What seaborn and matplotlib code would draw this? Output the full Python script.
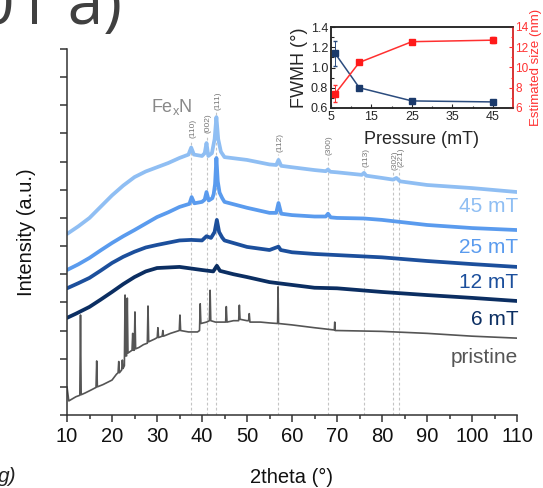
import matplotlib
matplotlib.use("Agg")
import matplotlib.pyplot as plt
import numpy as np
import seaborn as sns
from matplotlib.ticker import MultipleLocator, FixedLocator

# ---- XRD traces (2theta in deg, intensity offset in tick units) ----
pristine_x = [10.0, 10.4, 12.0, 12.85, 13.0, 13.15, 14.0, 15.5, 16.45, 16.6, 16.75, 18.0,
              20.0, 21.0, 21.35, 21.5, 21.65, 22.15, 22.3, 22.45, 22.75, 22.9, 23.05,
              23.25, 23.4, 23.55, 24.0, 24.45, 24.6, 24.75, 24.95, 25.1, 25.25, 26.0,
              27.0, 27.85, 28.0, 28.15, 29.5, 30.05, 30.2, 30.35, 31.15, 31.3, 31.45,
              33.0, 34.95, 35.1, 35.25, 37.0, 39.0, 39.45, 39.6, 39.75, 41.0, 41.65,
              41.8, 41.95, 43.0, 44.0, 45.25, 45.4, 45.55, 47.0, 48.15, 48.3, 48.45,
              50.0, 50.35, 50.5, 50.65, 53.0, 55.0, 56.8, 56.9, 57.0, 60.0, 65.0, 69.4,
              69.5, 69.6, 70.0, 80.0, 90.0, 100.0, 110.0]
pristine_y = [1.0, 0.5, 0.65, 0.7, 3.55, 0.72, 0.78, 0.9, 0.98, 1.92, 1.0, 1.08,
              1.24, 1.45, 1.5, 1.9, 1.5, 1.6, 1.95, 1.65, 1.75, 4.26, 2.1,
              2.1, 4.15, 2.2, 2.25, 2.3, 2.9, 2.3, 2.3, 3.66, 2.35, 2.4,
              2.5, 2.55, 3.87, 2.6, 2.7, 2.75, 3.1, 2.75, 2.8, 3.0, 2.8,
              2.9, 3.0, 3.55, 3.0, 2.95, 2.95, 3.0, 3.95, 3.25, 3.3, 3.35,
              4.43, 3.35, 3.3, 3.3, 3.3, 3.85, 3.3, 3.35, 3.35, 3.9, 3.4,
              3.35, 3.35, 3.6, 3.3, 3.3, 3.27, 3.25, 4.55, 3.25, 3.2, 3.1, 3.02,
              3.3, 3.0, 3.0, 2.97, 2.9, 2.8, 2.73]

mt6_x = [10, 12, 15, 17.5, 20, 22.5, 25, 27.5, 30, 35, 40, 42.5, 43.3, 44, 47, 50,
         55, 60, 65, 70, 80, 90, 100, 110]
mt6_y = [3.45, 3.6, 3.84, 4.1, 4.37, 4.65, 4.9, 5.1, 5.22, 5.26, 5.15, 5.1, 5.3, 5.12,
         5.0, 4.9, 4.72, 4.62, 4.52, 4.5, 4.37, 4.26, 4.16, 4.05]

mt12_x = [10, 12.5, 15, 17.5, 20, 22.5, 25, 27.5, 30, 35, 37.6, 40, 41, 42, 42.8, 43.3,
          43.8, 44.5, 45, 50, 55, 57, 57.5, 60, 65, 70, 80, 90, 100, 110]
mt12_y = [4.5, 4.68, 4.87, 5.13, 5.4, 5.62, 5.8, 5.95, 6.04, 6.2, 6.22, 6.2, 6.35, 6.29,
          6.5, 6.93, 6.5, 6.3, 6.2, 5.97, 5.86, 5.98, 5.86, 5.78, 5.72, 5.68, 5.6,
          5.47, 5.36, 5.26]

mt25_x = [10, 12.5, 15, 17.5, 20, 22.5, 25, 27.5, 30, 32.5, 35, 37.2, 37.7, 38.3, 40,
          40.6, 41.0, 41.5, 42.3, 42.6, 42.9, 43.2, 43.5, 43.9, 44.5, 45, 50, 55, 56.5,
          57.0, 57.6, 60, 65, 67.5, 68.0, 68.6, 70, 76, 80, 90, 100, 110]
mt25_y = [5.15, 5.35, 5.58, 5.85, 6.11, 6.35, 6.57, 6.8, 7.03, 7.2, 7.39, 7.5, 7.74,
          7.52, 7.57, 7.65, 7.92, 7.62, 7.7, 7.85, 8.2, 9.13, 8.3, 7.9, 7.7, 7.57,
          7.36, 7.18, 7.18, 7.53, 7.15, 7.1, 7.05, 7.05, 7.15, 7.02, 7.0, 6.98, 6.93,
          6.75, 6.64, 6.57]

mt45_x = [10, 12.5, 15, 17.5, 20, 22.5, 25, 27.5, 30, 32.5, 35, 37.0, 37.6, 38.2, 40,
          40.6, 41.0, 41.4, 42.2, 42.8, 43.2, 43.6, 44.2, 45, 50, 55, 56.5, 57.0, 57.6,
          60, 65, 67.5, 68.0, 68.5, 70, 75.5, 76.0, 76.5, 80, 82.5, 83.2, 84, 90,
          100, 110]
mt45_y = [6.43, 6.7, 7.0, 7.4, 7.8, 8.15, 8.45, 8.65, 8.8, 8.95, 9.13, 9.25, 9.5, 9.25,
          9.2, 9.3, 9.66, 9.2, 9.3, 9.8, 10.58, 9.8, 9.35, 9.16, 9.06, 8.9, 8.88, 9.06,
          8.85, 8.8, 8.7, 8.66, 8.72, 8.64, 8.62, 8.53, 8.6, 8.5, 8.42, 8.36, 8.42,
          8.3, 8.17, 8.06, 7.92]

series_labels = ["45 mT", "25 mT", "12 mT", "6 mT", "pristine"]
label_baselines = [7.22, 5.75, 4.51, 3.2, 1.85]

# ---- Fe_xN reflections ----
hkl_labels = ["(110)", "(002)", "(111)", "(112)", "(300)", "(113)", "(302)", "(221)"]
hkl_pos = [37.6, 41.0, 43.1, 56.9, 67.9, 76.1, 82.5, 83.8]
hkl_tops = [9.77, 9.95, 10.76, 9.27, 9.16, 8.74, 8.63, 8.74]

# ---- inset: FWHM and crystallite size vs pressure ----
pressure = [6, 12, 25, 45]
fwhm = [1.14, 0.80, 0.67, 0.66]
fwhm_err = [0.125, 0.01, 0.01, 0.005]
size_nm = [7.4, 10.5, 12.55, 12.7]
size_err = [0.85, 0.15, 0.15, 0.3]

colors = ["#8fbef3", "#5a9bee", "#1c4f9c", "#0b2e62", "#555555"]

sns.set_theme(style="ticks")
plt.rcParams["font.family"] = ["Liberation Sans", "DejaVu Sans"]
plt.rcParams["axes.linewidth"] = 1.1

fig = plt.figure(figsize=(5.43, 4.88), dpi=100)
ax = fig.add_axes([67 / 543, 73 / 488, 450 / 543, 366 / 488])

ax.vlines(hkl_pos, 0, hkl_tops, colors="#c4c4c4", linestyles=(0, (2.5, 2)),
          linewidth=0.8, zorder=0)
for lab, xp, top in zip(hkl_labels, hkl_pos, hkl_tops):
    ax.text(xp + 0.4, top + 0.08, lab, rotation=90, ha="center", va="bottom",
            fontsize=6, color="#777777")

traces = [(mt45_x, mt45_y), (mt25_x, mt25_y), (mt12_x, mt12_y),
          (mt6_x, mt6_y), (pristine_x, pristine_y)]
for (tx, ty), c in zip(traces, colors):
    lw = 1.2 if c == colors[-1] else 2.7
    sns.lineplot(x=tx, y=ty, ax=ax, color=c, linewidth=lw,
                 estimator=None, sort=False)

for lab, yb, c in zip(series_labels, label_baselines, colors):
    ax.text(110.3, yb, lab, ha="right", va="baseline", fontsize=15, color=c)

ax.text(33.3, 10.76, "Fe$_\\mathregular{x}$N", ha="center", va="baseline",
        fontsize=13, color="#888888")

ax.set_xlim(10, 110)
ax.set_ylim(0, 13)
ax.xaxis.set_major_locator(MultipleLocator(10))
ax.xaxis.set_minor_locator(MultipleLocator(5))
ax.yaxis.set_major_locator(MultipleLocator(1))
ax.set_yticklabels([])
ax.tick_params(axis="both", which="both", direction="out", colors="#333333",
               width=1.1, labelsize=14.5, labelcolor="#111111")
ax.tick_params(axis="both", which="major", length=5)
ax.tick_params(axis="x", which="minor", length=3)
for s in ["top", "right"]:
    ax.spines[s].set_visible(False)
for s in ["left", "bottom"]:
    ax.spines[s].set_color("#333333")
ax.set_xlabel("2theta (°)", fontsize=14.5, labelpad=16, color="#111111")
ax.set_ylabel("Intensity (a.u.)", fontsize=14.5, labelpad=14, color="#111111")

# inset
ins = fig.add_axes([331 / 543, 380 / 488, 182 / 543, 81 / 488])
ins.errorbar(pressure, fwhm, yerr=fwhm_err, color="#2b4c7e", marker="s", ms=5,
             mfc="#1b3a6b", mec="#1b3a6b", lw=1.1, elinewidth=0.7, capsize=1.5)
ins.set_xlim(5, 50)
ins.set_ylim(0.6, 1.4)
ins.xaxis.set_major_locator(FixedLocator([5, 15, 25, 35, 45]))
ins.xaxis.set_minor_locator(FixedLocator([10, 20, 30, 40, 50]))
ins.yaxis.set_minor_locator(MultipleLocator(0.1))
ins.set_yticks([0.6, 0.8, 1.0, 1.2, 1.4])
ins.set_yticklabels(["0.6", "0.8", "1.0", "1.2", "1.4"])
ins.tick_params(axis="both", which="both", direction="in", labelsize=9,
                width=0.8, pad=2)
ins.tick_params(which="major", length=3)
ins.tick_params(which="minor", length=1.8)
ins.set_xlabel("Pressure (mT)", fontsize=13, labelpad=6)
ins.set_ylabel("FWMH (°)", fontsize=13, labelpad=2)

ins2 = ins.twinx()
ins2.errorbar(pressure, size_nm, yerr=size_err, color="#ff3030", marker="s", ms=5,
              mfc="#ff1a1a", mec="#ff1a1a", lw=1.1, elinewidth=0.7, capsize=1.5)
ins2.set_ylim(6, 14)
ins2.yaxis.set_major_locator(MultipleLocator(2))
ins2.yaxis.set_minor_locator(MultipleLocator(1))
ins2.tick_params(axis="y", which="both", direction="in", labelsize=8.5, width=0.8,
                 colors="#ff3030", pad=1.5)
ins2.tick_params(which="major", length=3)
ins2.tick_params(which="minor", length=1.8)
ins2.spines["right"].set_color("#ff3030")
ins2.set_ylabel("Estimated size (nm)", fontsize=9.5, color="#ff3030", labelpad=1)

# cropped panel letters
fig.text(-0.04, 0.951, "01 a)", fontsize=46, color="#404040",
         family=["Open Sans", "DejaVu Sans"], va="baseline")
fig.text(-0.004, 0.012, "g)", fontsize=15, style="italic", color="#222222",
         va="baseline")

fig.savefig("out.png", dpi=100)
